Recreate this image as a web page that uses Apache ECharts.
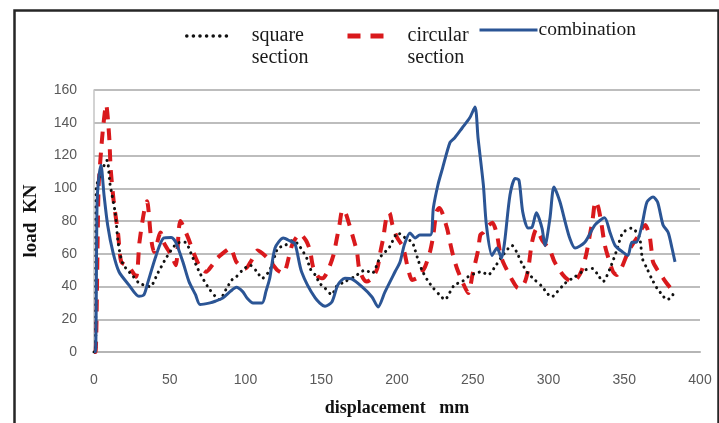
<!DOCTYPE html>
<html>
<head>
<meta charset="utf-8">
<script src="https://cdn.jsdelivr.net/npm/echarts@6/dist/echarts.min.js"></script>
<style>
  html, body { margin: 0; padding: 0; background: #fff; }
  #chart { width: 719px; height: 423px; }
</style>
</head>
<body>
<div id="chart"></div>
<script>
// Load vs. displacement for three crush-tube cross sections.

// square section
const squareX = [0, 1, 1.5, 4, 8.6, 10.5, 14, 16, 19, 26, 30, 37, 42, 48, 55, 60, 65, 70, 75, 80, 83, 87, 91, 94, 98, 103, 107.6, 111, 116, 119.5, 121.5, 126, 131, 134.6, 140.6, 142.6, 146, 149, 152.5, 157, 160, 165.6, 172, 179, 183.5, 189, 195, 200.6, 205, 210, 212, 214, 216.5, 220, 224, 228, 231.7, 235, 238, 243, 247, 251.5, 256, 260, 264.7, 269, 276, 279, 282.5, 286.5, 291, 295.7, 299, 302, 305.6, 311, 317.5, 324, 329, 332.7, 336, 340.6, 345, 349, 355, 360, 362, 365, 368, 371.6, 375, 378, 381.5, 383];
const squareY = [0, 0, 100, 108, 117, 103, 85, 66.5, 54, 46, 42, 40, 48, 58, 66.5, 67, 58, 48, 40, 34, 32, 38, 44, 46, 50, 53, 49, 45, 50, 59, 63.5, 65, 68, 66, 57, 51, 47, 42, 39, 35, 40, 43, 46, 50, 48, 58, 64, 72.7, 70, 67, 62, 56, 50, 44, 39, 35, 32, 36.6, 41, 43, 46, 48, 49, 47, 52, 58, 65, 61, 54, 48, 44, 40, 36, 33.6, 36.6, 42, 46, 50, 51, 47, 43, 51, 62, 72.7, 75.7, 70, 57, 51, 45, 39, 35, 32, 33.6, 38.5];

// circular section
const circularX = [0, 1, 3, 4.6, 6, 8, 10, 11, 13, 16, 18, 23, 27.7, 30, 33, 35, 37.6, 39.6, 44, 46, 51, 54, 57, 62, 66, 70, 74, 78, 81, 86, 90, 94, 100, 104, 108, 115, 121, 125, 127, 131, 136, 140, 142.6, 144.6, 148, 151, 154.5, 158, 160, 162, 164, 166, 168, 171, 173.6, 175, 177.6, 180, 183.5, 187, 189, 191, 193, 195, 197, 200, 204, 207, 210, 213, 215, 218.5, 222, 224, 226, 228, 233, 235, 237, 239.6, 243.6, 247, 250, 253.5, 255, 257, 260, 263, 266, 268, 270, 276, 280, 284, 286.5, 289, 292, 296, 301, 304, 309.6, 313, 316, 319, 322, 325, 327, 329, 331, 333, 335, 337, 339, 342.6, 345, 348.5, 352.5, 356, 360, 362, 364, 366, 367, 368, 369, 372, 375, 378, 381.5];
const circularY = [0, 0, 100, 122, 137, 151, 132, 112, 92, 71.5, 55, 52, 46, 67, 85.5, 92, 70, 61, 73, 67, 59, 53, 80, 70, 60, 52, 49, 53, 57, 61, 63.5, 55, 51, 56, 62, 57, 50, 48, 52, 66, 72, 68, 62, 52, 46, 45, 50, 59, 68, 77.6, 86.7, 85, 79.4, 70, 61, 51, 45, 43, 45, 51, 61, 70, 82, 85, 77.6, 70, 64, 52, 44, 45, 47, 52, 62, 71.5, 85.5, 88, 75.7, 67, 59, 51, 42, 36, 48, 62, 71.5, 73, 77, 79, 71.5, 61, 55, 44, 39, 42, 50, 66.5, 75, 68, 62, 55, 47, 44, 43, 45, 50, 60, 70, 80, 92, 88, 78, 66, 59, 49, 47, 52, 61, 66.5, 72, 76, 77.6, 73, 69.6, 62, 55, 50, 46, 42, 38];

// combination
const combinationX = [0, 1, 2, 3, 4.6, 6.6, 9, 12.5, 16.5, 23, 29.7, 33, 35.6, 41, 46, 51, 54, 58.7, 62.7, 67, 70, 76.6, 80, 85, 90, 94, 98, 101, 105, 111, 113.5, 116, 119.5, 125, 129, 132.7, 137, 146, 152.5, 157, 161, 165.6, 170, 177, 183.5, 187.5, 192, 198.7, 202, 205, 208.6, 212, 215, 222, 224, 227, 230, 235, 238, 243, 248, 251.5, 253.5, 257, 259, 262.7, 266, 269, 271, 274.6, 278, 280.5, 283, 286.5, 289, 292, 295.7, 297.7, 301, 303.6, 307.6, 311, 314, 317.5, 324, 330.7, 337, 340.6, 344, 349, 352.5, 355, 358, 361.7, 365, 369, 372, 375.6, 379, 381.5, 383.5];
const combinationY = [0, 0, 90, 105, 114, 96, 77.6, 61, 49, 41, 34, 35, 42.7, 59, 69.6, 70, 67, 55, 43, 35, 29, 30, 31, 33, 37, 39.5, 37, 33, 30, 30, 37, 45, 63.5, 69.6, 68, 66, 49, 33, 28, 30.5, 41, 45, 44.6, 39.7, 33.6, 27.5, 36.6, 49, 55, 66, 72.7, 69.6, 71.5, 71.5, 88, 102, 112, 128, 130.7, 136.8, 143, 149.6, 130.7, 102, 77.6, 59, 63.5, 57.4, 67, 96, 106, 105, 85.5, 75.7, 76, 85, 75.7, 65, 82, 100.8, 91.6, 79.4, 69.6, 63.5, 67, 77.6, 82, 73, 65, 61, 59, 67, 67, 77.6, 91.6, 94.6, 91.6, 77.6, 73, 63.5, 55];

// axis ticks
const xTicks = [0, 50, 100, 150, 200, 250, 300, 350, 400];
const yTicks = [0, 20, 40, 60, 80, 100, 120, 140, 160];

const pairs = (xs, ys) => xs.map((x, i) => [x, ys[i]]);

const SERIF = '"Liberation Serif", "Times New Roman", serif';
const SANS = '"Liberation Sans", Arial, sans-serif';

const chart = echarts.init(document.getElementById('chart'), null, { renderer: 'canvas' });

// Two-line legend label: a blank first row keeps the key level with the first word.
const twoLine = (name) => {
  const [a, b] = name.split('\n');
  return '{e| }\n{t|' + a + '}\n{t|' + b + '}';
};
const twoLineText = (padLeft) => ({
  fontFamily: SERIF,
  fontSize: 20,
  color: '#1a1a1a',
  rich: {
    e: { fontFamily: SERIF, fontSize: 20, lineHeight: 22, padding: [0, 0, 0, padLeft] },
    t: { fontFamily: SERIF, fontSize: 20, lineHeight: 22, color: '#1a1a1a', padding: [0, 0, 0, padLeft] }
  }
});
const hiddenKeySymbol = { color: 'rgba(0,0,0,0)', borderWidth: 0 };

chart.setOption({
  animation: false,
  backgroundColor: '#ffffff',
  graphic: [{
    type: 'rect',
    left: 12,
    top: 8,
    shape: { width: 704, height: 430 },
    style: { fill: 'none', stroke: '#262626', lineWidth: 2.5 },
    silent: true
  }],
  legend: [
    {
      data: ['square\nsection'],
      left: 185, top: 4, padding: 0,
      itemWidth: 40, itemHeight: 14,
      itemStyle: hiddenKeySymbol,
      lineStyle: { width: 3.5, type: [0.1, 6.5], cap: 'round' },
      formatter: twoLine,
      textStyle: twoLineText(20)
    },
    {
      data: ['circular\nsection'],
      left: 345, top: 4, padding: 0,
      itemWidth: 40, itemHeight: 14,
      itemStyle: hiddenKeySymbol,
      lineStyle: { width: 5, type: [13, 10] },
      formatter: twoLine,
      textStyle: twoLineText(15)
    },
    {
      data: ['combination'],
      left: 478, top: 20, padding: 0,
      itemWidth: 58, itemHeight: 14,
      itemStyle: hiddenKeySymbol,
      lineStyle: { width: 3 },
      textStyle: { fontFamily: SERIF, fontSize: 19.5, color: '#1a1a1a', padding: [0, 0, 0, -4] }
    }
  ],
  grid: { left: 94, right: 19, top: 90, bottom: 71, containLabel: false },
  xAxis: {
    type: 'value',
    min: xTicks[0],
    max: xTicks[xTicks.length - 1],
    interval: xTicks[1] - xTicks[0],
    name: 'displacement   mm',
    nameLocation: 'middle',
    nameGap: 47,
    nameTextStyle: { fontFamily: SERIF, fontWeight: 'bold', fontSize: 18, color: '#111' },
    axisLine: { show: true, lineStyle: { color: '#b5b5b5', width: 2 } },
    axisTick: { show: false },
    splitLine: { show: false },
    axisLabel: { margin: 21, fontFamily: SANS, fontSize: 14, color: '#595959' }
  },
  yAxis: {
    type: 'value',
    min: yTicks[0],
    max: yTicks[yTicks.length - 1],
    interval: yTicks[1] - yTicks[0],
    name: 'load  KN',
    nameLocation: 'middle',
    nameGap: 53,
    nameRotate: 90,
    nameTextStyle: { fontFamily: SERIF, fontWeight: 'bold', fontSize: 19, color: '#111' },
    axisLine: { show: true, lineStyle: { color: '#c4c4c4', width: 1.5 } },
    axisTick: { show: false },
    splitLine: { show: true, lineStyle: { color: '#bdbdbd', width: 2 } },
    axisLabel: { margin: 17, fontFamily: SANS, fontSize: 14, color: '#595959' }
  },
  series: [
    {
      name: 'square\nsection',
      type: 'line',
      data: pairs(squareX, squareY),
      symbol: 'none',
      smooth: 0.25,
      lineStyle: { color: '#111111', width: 3, type: [0.1, 6], cap: 'round' },
      itemStyle: { color: '#111111' },
      z: 3
    },
    {
      name: 'circular\nsection',
      type: 'line',
      data: pairs(circularX, circularY),
      symbol: 'none',
      smooth: 0.25,
      lineStyle: { color: '#d9191c', width: 4, type: [12, 9] },
      itemStyle: { color: '#d9191c' },
      z: 2
    },
    {
      name: 'combination',
      type: 'line',
      data: pairs(combinationX, combinationY),
      symbol: 'none',
      smooth: 0.25,
      lineStyle: { color: '#2b5595', width: 3 },
      itemStyle: { color: '#2b5595' },
      z: 4
    }
  ]
});
</script>
</body>
</html>
